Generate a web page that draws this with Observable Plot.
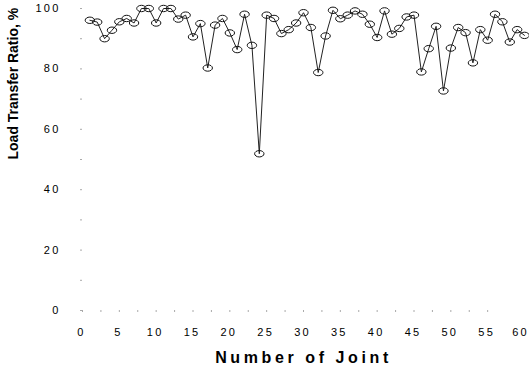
<!DOCTYPE html>
<html>
<head>
<meta charset="utf-8">
<script src="https://cdn.jsdelivr.net/npm/d3@7"></script>
<script src="https://cdn.jsdelivr.net/npm/@observablehq/plot@0.6"></script>
<style>
  html, body { margin: 0; padding: 0; background: #fff; }
  svg { font-family: "Liberation Sans", Arial, Helvetica, sans-serif; }
  g[aria-label="x-axis tick label"] text, g[aria-label="y-axis tick label"] text { font-size: 11px; letter-spacing: 2.2px; fill: #000; }
  text.xtitle { letter-spacing: 3.6px; }
</style>
</head>
<body>
<div id="chart"></div>
<script>
const joints = [1,2,3,4,5,6,7,8,9,10,11,12,13,14,15,16,17,18,19,20,21,22,23,24,25,26,27,28,29,30,
  31,32,33,34,35,36,37,38,39,40,41,42,43,44,45,46,47,48,49,50,51,52,53,54,55,56,57,58,59,60];
const ratio = [96.1,95.5,90.0,92.8,95.6,96.7,95.2,100,100,95.2,100,100,96.5,97.8,90.6,95.0,80.3,94.5,96.7,91.9,
  86.4,98.1,87.8,51.9,97.8,96.7,91.7,93.0,95.2,98.6,93.7,78.8,90.9,99.4,96.6,97.8,99.2,98.1,94.8,90.4,
  99.2,91.5,93.4,97.2,97.8,79.0,86.7,94.1,72.7,86.9,93.7,92.0,82.0,93.0,89.5,98.1,95.6,88.9,93.0,91.1];
const xTicks = [0,5,10,15,20,25,30,35,40,45,50,55,60];
const yTicks = [0,20,40,60,80,100];
const xMinor = [0,2.5,5,7.5,10,12.5,15,17.5,20,22.5,25,27.5,30,32.5,35,37.5,40,42.5,45,47.5,50,52.5,55];
const yMinor = [0,10,20,30,40,50,60,70,80,90,100];
const xTitle = "Number of Joint";
const yTitle = "Load Transfer Ratio, %";

const data = joints.map((j, i) => ({joint: j, ratio: ratio[i]}));

const ellipse = {
  draw(ctx) {
    const rx = 4.7, ry = 3.2, k = 0.5523;
    ctx.moveTo(rx, 0);
    ctx.bezierCurveTo(rx, k * ry, k * rx, ry, 0, ry);
    ctx.bezierCurveTo(-k * rx, ry, -rx, k * ry, -rx, 0);
    ctx.bezierCurveTo(-rx, -k * ry, -k * rx, -ry, 0, -ry);
    ctx.bezierCurveTo(k * rx, -ry, rx, -k * ry, rx, 0);
    ctx.closePath();
  }
};

const chart = Plot.plot({
  width: 529,
  height: 370,
  marginLeft: 82,
  marginRight: 5,
  marginTop: 8,
  marginBottom: 60,
  x: {domain: [0, 60]},
  y: {domain: [0, 100]},
  marks: [
    Plot.axisX({ticks: xMinor, tickSize: 2, text: null, label: null, stroke: "#aaa"}),
    Plot.axisY({ticks: yMinor, tickSize: 2, text: null, label: null, stroke: "#aaa"}),
    Plot.axisX({ticks: xTicks, tickSize: 0, tickPadding: 18, label: null, dx: -1}),
    Plot.axisY({ticks: yTicks, tickSize: 0, tickPadding: 22, label: null}),
    Plot.text([xTitle], {text: d => d, frameAnchor: "bottom", dy: 52, fontSize: 16, fontWeight: "bold", fill: "#000"}),
    Plot.text([yTitle], {text: d => d, frameAnchor: "left", rotate: -90, dx: -69, fontSize: 14, fontWeight: "bold", fill: "#000"}),
    Plot.line(data, {x: "joint", y: "ratio", stroke: "#222", strokeWidth: 1}),
    Plot.dot(data, {x: "joint", y: "ratio", symbol: ellipse, stroke: "#111", strokeWidth: 1, fill: "none"})
  ]
});
d3.select(chart).selectAll("text").filter(function() { return this.textContent === xTitle; }).classed("xtitle", true);
// keep the last x tick label inside the picture
const xLabels = d3.select(chart).selectAll('g[aria-label="x-axis tick label"] text').nodes();
if (xLabels.length) xLabels[xLabels.length - 1].setAttribute("dx", "-3");
document.getElementById("chart").appendChild(chart);
</script>
</body>
</html>
